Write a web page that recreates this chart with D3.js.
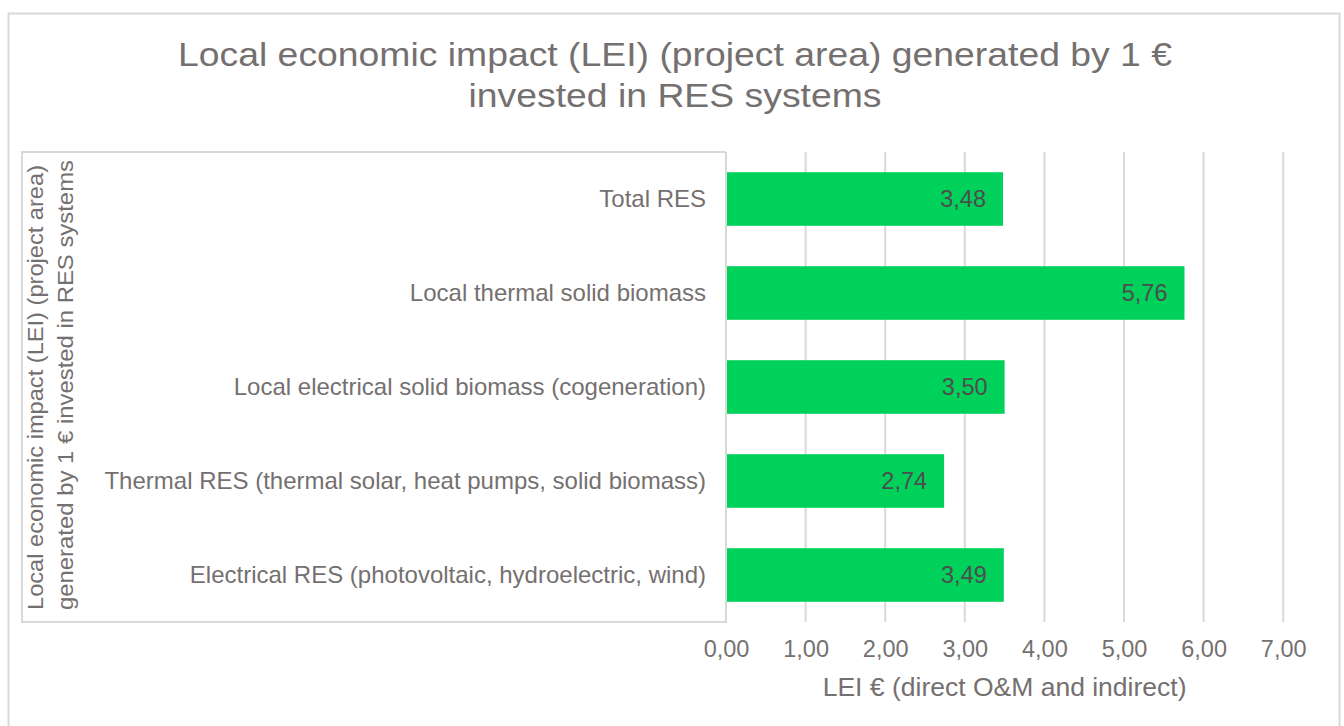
<!DOCTYPE html>
<html><head><meta charset="utf-8">
<script src="https://cdn.jsdelivr.net/npm/d3@7"></script>
<style>body{margin:0;background:#fff;} svg{display:block;font-family:"Liberation Sans",Arial,sans-serif;}</style>
</head><body>
<svg id="c" width="1344" height="726"></svg>
<script>
const categories = ["Total RES","Local thermal solid biomass","Local electrical solid biomass (cogeneration)","Thermal RES (thermal solar, heat pumps, solid biomass)","Electrical RES (photovoltaic, hydroelectric, wind)"];
const values = [3.48, 5.76, 3.50, 2.74, 3.49];
const valueLabels = ["3,48","5,76","3,50","2,74","3,49"];
const tickValues = [0,1,2,3,4,5,6,7];
const tickLabels = ["0,00","1,00","2,00","3,00","4,00","5,00","6,00","7,00"];
const titleLines = ["Local economic impact (LEI) (project area) generated by 1 €","invested in RES systems"];
const yTitleLines = ["Local economic impact (LEI) (project area)","generated by 1 € invested in RES systems"];
const xTitle = "LEI € (direct O&M and indirect)";

const svg = d3.select("#c");
const textCol = "#757070", gridCol = "#D9D9D9";
const x0 = 726, plotTop = 152, plotBottom = 622, boxLeft = 22;
const x = d3.scaleLinear().domain([0,7]).range([x0, x0 + 7*79.6]);
const y = d3.scaleBand().domain(categories).range([plotTop, plotBottom]).paddingInner(0.43).paddingOuter(0.215);

// outer border
svg.append("rect").attr("x",8.5).attr("y",13.5).attr("width",1331).attr("height",730)
  .attr("fill","none").attr("stroke",gridCol).attr("stroke-width",2);

// title (slightly wide rendering in reference)
const titleWidths = [994, 413];
svg.append("g").selectAll("text").data(titleLines).join("text")
  .attr("x",675).attr("y",(d,i)=>66+i*41).attr("text-anchor","middle")
  .attr("font-size",33.5).attr("fill",textCol)
  .attr("textLength",(d,i)=>titleWidths[i]).attr("lengthAdjust","spacingAndGlyphs").text(d=>d);

// gridlines
svg.append("g").selectAll("line").data(tickValues.slice(1)).join("line")
  .attr("x1",d=>x(d)).attr("x2",d=>x(d)).attr("y1",plotTop).attr("y2",plotBottom)
  .attr("stroke",gridCol).attr("stroke-width",2);

// category box
svg.append("path").attr("d",`M${x0},${plotTop}H${boxLeft}V${plotBottom}H${x0}V${plotTop}`)
  .attr("fill","none").attr("stroke",gridCol).attr("stroke-width",2);

// bars
svg.append("g").selectAll("rect").data(values).join("rect")
  .attr("x",x(0)+1).attr("y",(d,i)=>y(categories[i])).attr("height",y.bandwidth())
  .attr("width",d=>x(d)-x(0)-1).attr("fill","#00D15B");

// value labels
svg.append("g").selectAll("text").data(values).join("text")
  .attr("x",d=>x(d)-17).attr("y",(d,i)=>y(categories[i])+y.bandwidth()/2+8)
  .attr("text-anchor","end").attr("font-size",23.5).attr("fill","#4d4d4d").text((d,i)=>valueLabels[i]);

// category labels
svg.append("g").selectAll("text").data(categories).join("text")
  .attr("x",706).attr("y",d=>y(d)+y.bandwidth()/2+8).attr("text-anchor","end")
  .attr("font-size",24).attr("fill",textCol).text(d=>d);

// x axis tick labels
const xAxis = d3.axisBottom(x).tickValues(tickValues).tickSize(0).tickPadding(0)
  .tickFormat((d,i)=>tickLabels[i]);
const gx = svg.append("g").attr("transform",`translate(0,${plotBottom})`).call(xAxis);
gx.select(".domain").remove();
gx.selectAll("text").attr("font-size",23.5).attr("fill",textCol)
  .attr("font-family","Liberation Sans, Arial, sans-serif").attr("dy",null).attr("y",35);

// x title
svg.append("text").attr("x",(x(0)+x(7))/2).attr("y",696).attr("text-anchor","middle")
  .attr("font-size",26.5).attr("fill",textCol).text(xTitle);

// y title
svg.append("g").selectAll("text").data(yTitleLines).join("text")
  .attr("transform",(d,i)=>`translate(${43+i*30},610) rotate(-90)`)
  .attr("font-size",21.5).attr("fill",textCol)
  .attr("textLength",(d,i)=>[445,450][i]).attr("lengthAdjust","spacingAndGlyphs").text(d=>d);
</script>
</body></html>
